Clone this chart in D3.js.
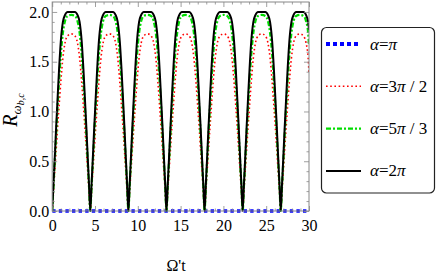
<!DOCTYPE html>
<html><head><meta charset="utf-8">
<script src="https://cdn.jsdelivr.net/npm/d3@7"></script>
<style>html,body{margin:0;padding:0;background:#fff;}svg{display:block;}</style>
</head><body>
<svg id="chart" width="436" height="273" font-family="Liberation Serif"></svg>
<script>
// Ω't sample points (zeros near 0, 4.45, 8.9, ...)
const time = [
  0, 0.15, 0.3, 0.45, 0.6, 0.8, 1.0, 1.25, 1.5, 1.8, 2.23, 2.65, 2.95, 3.2, 3.45, 3.65, 3.85, 4.0, 4.15, 4.3,
  4.45, 4.6, 4.75, 4.9, 5.05, 5.25, 5.45, 5.7, 5.95, 6.25, 6.68, 7.1, 7.4, 7.65, 7.9, 8.1, 8.3, 8.45, 8.6, 8.75,
  8.9, 9.05, 9.2, 9.35, 9.5, 9.7, 9.9, 10.15, 10.4, 10.7, 11.13, 11.55, 11.85, 12.1, 12.35, 12.55, 12.75, 12.9, 13.05, 13.2,
  13.35, 13.5, 13.65, 13.8, 13.95, 14.15, 14.35, 14.6, 14.85, 15.15, 15.58, 16.0, 16.3, 16.55, 16.8, 17.0, 17.2, 17.35, 17.5, 17.65,
  17.8, 17.95, 18.1, 18.25, 18.4, 18.6, 18.8, 19.05, 19.3, 19.6, 20.03, 20.45, 20.75, 21.0, 21.25, 21.45, 21.65, 21.8, 21.95, 22.1,
  22.25, 22.4, 22.55, 22.7, 22.85, 23.05, 23.25, 23.5, 23.75, 24.05, 24.48, 24.9, 25.2, 25.45, 25.7, 25.9, 26.1, 26.25, 26.4, 26.55,
  26.7, 26.85, 27.0, 27.15, 27.3, 27.5, 27.7, 27.95, 28.2, 28.5, 28.93, 29.35, 29.65, 29.9, 30.0
];
// α = 2π (black)
const rAlpha2Pi = [
  0, 0.27, 0.54, 0.82, 1.08, 1.42, 1.7, 1.9, 1.97, 2.0, 2.0, 2.0, 1.97, 1.9, 1.7, 1.42, 1.08, 0.82, 0.54, 0.27,
  0, 0.27, 0.54, 0.82, 1.08, 1.42, 1.7, 1.9, 1.97, 2.0, 2.0, 2.0, 1.97, 1.9, 1.7, 1.42, 1.08, 0.82, 0.54, 0.27,
  0, 0.27, 0.54, 0.82, 1.08, 1.42, 1.7, 1.9, 1.97, 2.0, 2.0, 2.0, 1.97, 1.9, 1.7, 1.42, 1.08, 0.82, 0.54, 0.27,
  0, 0.27, 0.54, 0.82, 1.08, 1.42, 1.7, 1.9, 1.97, 2.0, 2.0, 2.0, 1.97, 1.9, 1.7, 1.42, 1.08, 0.82, 0.54, 0.27,
  0, 0.27, 0.54, 0.82, 1.08, 1.42, 1.7, 1.9, 1.97, 2.0, 2.0, 2.0, 1.97, 1.9, 1.7, 1.42, 1.08, 0.82, 0.54, 0.27,
  0, 0.27, 0.54, 0.82, 1.08, 1.42, 1.7, 1.9, 1.97, 2.0, 2.0, 2.0, 1.97, 1.9, 1.7, 1.42, 1.08, 0.82, 0.54, 0.27,
  0, 0.27, 0.54, 0.82, 1.08, 1.42, 1.7, 1.9, 1.97, 2.0, 2.0, 2.0, 1.97, 1.9, 1.82
];
// α = 5π/3 (green)
const rAlpha5Pi3 = [
  0, 0.25, 0.5, 0.75, 1.0, 1.3, 1.56, 1.79, 1.91, 1.96, 1.97, 1.96, 1.91, 1.79, 1.56, 1.3, 1.0, 0.75, 0.5, 0.25,
  0, 0.25, 0.5, 0.75, 1.0, 1.3, 1.56, 1.79, 1.91, 1.96, 1.97, 1.96, 1.91, 1.79, 1.56, 1.3, 1.0, 0.75, 0.5, 0.25,
  0, 0.25, 0.5, 0.75, 1.0, 1.3, 1.56, 1.79, 1.91, 1.96, 1.97, 1.96, 1.91, 1.79, 1.56, 1.3, 1.0, 0.75, 0.5, 0.25,
  0, 0.25, 0.5, 0.75, 1.0, 1.3, 1.56, 1.79, 1.91, 1.96, 1.97, 1.96, 1.91, 1.79, 1.56, 1.3, 1.0, 0.75, 0.5, 0.25,
  0, 0.25, 0.5, 0.75, 1.0, 1.3, 1.56, 1.79, 1.91, 1.96, 1.97, 1.96, 1.91, 1.79, 1.56, 1.3, 1.0, 0.75, 0.5, 0.25,
  0, 0.25, 0.5, 0.75, 1.0, 1.3, 1.56, 1.79, 1.91, 1.96, 1.97, 1.96, 1.91, 1.79, 1.56, 1.3, 1.0, 0.75, 0.5, 0.25,
  0, 0.25, 0.5, 0.75, 1.0, 1.3, 1.56, 1.79, 1.91, 1.96, 1.97, 1.96, 1.91, 1.79, 1.66
];
// α = 3π/2 (red)
const rAlpha3Pi2 = [
  0, 0.2, 0.4, 0.6, 0.8, 1.05, 1.29, 1.54, 1.69, 1.76, 1.78, 1.76, 1.69, 1.54, 1.29, 1.05, 0.8, 0.6, 0.4, 0.2,
  0, 0.2, 0.4, 0.6, 0.8, 1.05, 1.29, 1.54, 1.69, 1.76, 1.78, 1.76, 1.69, 1.54, 1.29, 1.05, 0.8, 0.6, 0.4, 0.2,
  0, 0.2, 0.4, 0.6, 0.8, 1.05, 1.29, 1.54, 1.69, 1.76, 1.78, 1.76, 1.69, 1.54, 1.29, 1.05, 0.8, 0.6, 0.4, 0.2,
  0, 0.2, 0.4, 0.6, 0.8, 1.05, 1.29, 1.54, 1.69, 1.76, 1.78, 1.76, 1.69, 1.54, 1.29, 1.05, 0.8, 0.6, 0.4, 0.2,
  0, 0.2, 0.4, 0.6, 0.8, 1.05, 1.29, 1.54, 1.69, 1.76, 1.78, 1.76, 1.69, 1.54, 1.29, 1.05, 0.8, 0.6, 0.4, 0.2,
  0, 0.2, 0.4, 0.6, 0.8, 1.05, 1.29, 1.54, 1.69, 1.76, 1.78, 1.76, 1.69, 1.54, 1.29, 1.05, 0.8, 0.6, 0.4, 0.2,
  0, 0.2, 0.4, 0.6, 0.8, 1.05, 1.29, 1.54, 1.69, 1.76, 1.78, 1.76, 1.69, 1.54, 1.38
];
// α = π (blue) : identically zero
const timeAlphaPi = [0, 30];
const rAlphaPi = [0, 0];

const xTicks = [0, 5, 10, 15, 20, 25, 30];
const xTickLabels = ["0", "5", "10", "15", "20", "25", "30"];
const yTicks = [0, 0.5, 1.0, 1.5, 2.0];
const yTickLabels = ["0.0", "0.5", "1.0", "1.5", "2.0"];

const seriesNames = ["alphaPi", "alpha3Pi2", "alpha5Pi3", "alpha2Pi"];
const seriesColors = ["#0000ff", "#ff0000", "#00dd00", "#000000"];

const FONT = "Liberation Serif";
const svg = d3.select("#chart");
const L = 52.2, R = 309, T = 2, B = 211;
const x = d3.scaleLinear().domain([0, 30]).range([L, R]);
const y = d3.scaleLinear().domain([0, 2.1]).range([B, T]);

svg.append("defs").append("clipPath").attr("id", "clip")
  .append("rect").attr("x", L).attr("y", T - 1).attr("width", R - L).attr("height", B - T + 3);

const styles = {
  alphaPi: {w: 3.4, dash: "3.4,3.2", cap: "butt"},
  alpha3Pi2: {w: 1.6, dash: "1.6,2.6", cap: "butt"},
  alpha5Pi3: {w: 2.2, dash: "5,2,2,2", cap: "butt"},
  alpha2Pi: {w: 2, dash: null, cap: "butt"}
};

const plot = svg.append("g").attr("clip-path", "url(#clip)");
const line = d3.line().x(d => x(d[0])).y(d => y(d[1])).curve(d3.curveMonotoneX);

const seriesData = {
  alphaPi: timeAlphaPi.map((t, i) => [t, rAlphaPi[i]]),
  alpha3Pi2: time.map((t, i) => [t, rAlpha3Pi2[i]]),
  alpha5Pi3: time.map((t, i) => [t, rAlpha5Pi3[i]]),
  alpha2Pi: time.map((t, i) => [t, rAlpha2Pi[i]])
};

// frame and ticks
const frameColor = "#888";
const minorX = d3.range(0, 31, 1).filter(v => v % 5 !== 0);
const minorY = d3.range(1, 21, 1).filter(v => v % 5 !== 0).map(v => v / 10);
const gx = svg.append("g").attr("transform", `translate(0,${B})`)
  .call(d3.axisBottom(x).tickValues(xTicks).tickSizeInner(-5).tickSizeOuter(0).tickPadding(9)
    .tickFormat((d, i) => xTickLabels[i]));
const gxm = svg.append("g").attr("transform", `translate(0,${B})`)
  .call(d3.axisBottom(x).tickValues(minorX).tickSizeInner(-2.5).tickSizeOuter(0).tickFormat(""));
const gxt = svg.append("g").attr("transform", `translate(0,${T})`)
  .call(d3.axisTop(x).tickValues(xTicks).tickSizeInner(-5).tickSizeOuter(0).tickFormat(""));
const gxtm = svg.append("g").attr("transform", `translate(0,${T})`)
  .call(d3.axisTop(x).tickValues(minorX).tickSizeInner(-2.5).tickSizeOuter(0).tickFormat(""));
const gy = svg.append("g").attr("transform", `translate(${L},0)`)
  .call(d3.axisLeft(y).tickValues(yTicks).tickSizeInner(-5).tickSizeOuter(0).tickPadding(3)
    .tickFormat((d, i) => yTickLabels[i]));
const gym = svg.append("g").attr("transform", `translate(${L},0)`)
  .call(d3.axisLeft(y).tickValues(minorY).tickSizeInner(-2.5).tickSizeOuter(0).tickFormat(""));
const gyr = svg.append("g").attr("transform", `translate(${R},0)`)
  .call(d3.axisRight(y).tickValues(yTicks).tickSizeInner(-5).tickSizeOuter(0).tickFormat(""));
const gyrm = svg.append("g").attr("transform", `translate(${R},0)`)
  .call(d3.axisRight(y).tickValues(minorY).tickSizeInner(-2.5).tickSizeOuter(0).tickFormat(""));
[gx, gxm, gxt, gxtm, gy, gym, gyr, gyrm].forEach(g => {
  g.attr("font-family", FONT).attr("font-size", 16);
  g.select(".domain").remove();
  g.selectAll(".tick line").attr("stroke", frameColor).attr("stroke-width", 0.8);
  g.selectAll(".tick text").attr("font-family", FONT).attr("font-size", 16).attr("fill", "#000");
});
svg.append("rect").attr("x", L).attr("y", T).attr("width", R - L).attr("height", B - T)
  .attr("fill", "none").attr("stroke", frameColor).attr("stroke-width", 1);

seriesNames.forEach((name, i) => {
  const s = styles[name];
  plot.append("path").datum(seriesData[name])
    .attr("d", line).attr("fill", "none")
    .attr("stroke", seriesColors[i]).attr("stroke-width", s.w)
    .attr("stroke-dasharray", s.dash).attr("stroke-linecap", s.cap)
    .attr("stroke-linejoin", "round");
});

// axis titles
const yt = svg.append("text").attr("transform", "translate(17,110) rotate(-90)")
  .attr("text-anchor", "middle").attr("font-family", FONT).attr("font-style", "italic").attr("fill", "#000");
yt.append("tspan").attr("font-size", 20).text("R");
yt.append("tspan").attr("font-size", 13).attr("dy", 4).text("ω");
yt.append("tspan").attr("font-size", 10).attr("dy", 3).text("b,c");

svg.append("text").attr("x", 176).attr("y", 271).attr("text-anchor", "middle")
  .attr("font-family", FONT).attr("font-size", 16).attr("fill", "#000").text("Ω't");

// legend
const legendParts = [
  [["α", true], ["=", false], ["π", true]],
  [["α", true], ["=3", false], ["π", true], [" / 2", false]],
  [["α", true], ["=5", false], ["π", true], [" / 3", false]],
  [["α", true], ["=2", false], ["π", true]]
];
const lg = svg.append("g");
lg.append("rect").attr("x", 321.5).attr("y", 27.5).attr("width", 113).attr("height", 165.5)
  .attr("rx", 5).attr("fill", "#fff").attr("stroke", "#222").attr("stroke-width", 1.2);
seriesNames.forEach((name, i) => {
  const cy = 44 + i * 42.3;
  const s = styles[name];
  lg.append("line").attr("x1", 326).attr("x2", 361).attr("y1", cy).attr("y2", cy)
    .attr("stroke", seriesColors[i]).attr("stroke-width", name === "alphaPi" ? 4 : s.w)
    .attr("stroke-dasharray", name === "alphaPi" ? "4,3" : s.dash);
  const t = lg.append("text").attr("x", 370).attr("y", cy + 5.5)
    .attr("font-family", FONT).attr("font-size", 17).attr("fill", "#000");
  legendParts[i].forEach(p => t.append("tspan").attr("font-style", p[1] ? "italic" : "normal").text(p[0]));
});
</script>
</body></html>
